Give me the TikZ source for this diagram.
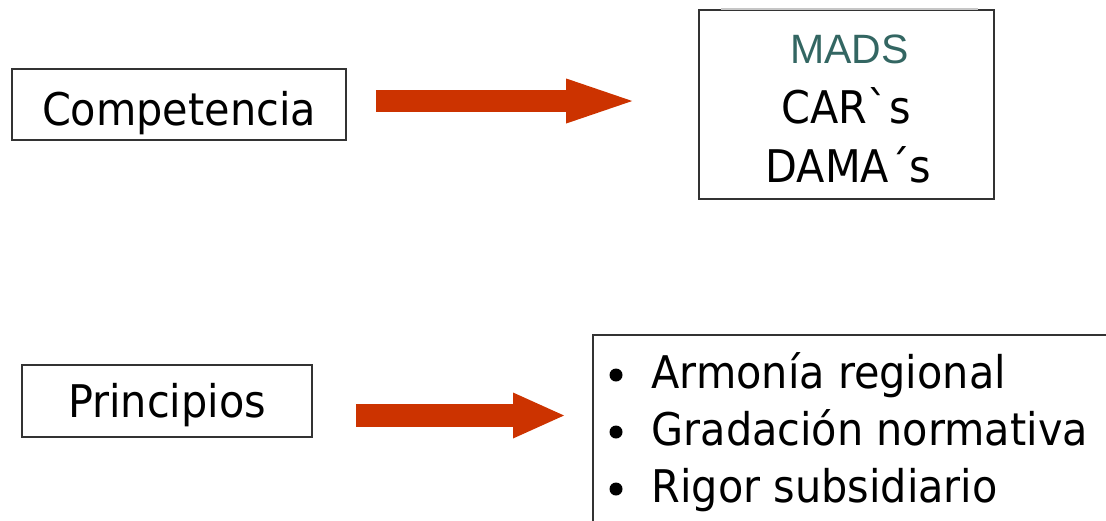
\documentclass[tikz,border=0pt]{standalone}
\usepackage{fontspec}
\usetikzlibrary{arrows.meta,calc}
\newfontfamily\boxfont[FakeStretch=0.92]{DejaVu Sans}
\newfontfamily\madsfont{Liberation Sans}
\definecolor{flecha}{RGB}{204,51,0}
\definecolor{madsverde}{RGB}{51,102,98}
\tikzset{
  caja/.style={draw=black!80, line width=1.6pt, inner sep=0pt},
  texto/.style={font=\fontsize{45}{54}\boxfont, text=black},
  flechon/.style n args={3}{draw=flecha, line width=#1,
    -{Triangle[length=#2, width=#3, line width=0pt]}}
}

\begin{document}
\begin{tikzpicture}[x=1pt, y=-1pt]
  \useasboundingbox (0,0) rectangle (1106,520);

  % competencia -> autoridades
  \node[caja, texto, minimum width=334pt, minimum height=71pt,
        text height=41pt, text depth=0pt] (comp) at (179,104.5) {Competencia};
  \node[caja, minimum width=295pt, minimum height=189pt] (mads) at (846.5,104.5) {};
  \draw[gray!45, line width=1.6pt] ($(mads.north west)+(23,0)$) -- ($(mads.north east)+(-17,0)$);
  \node[anchor=base, font=\fontsize{41}{48}\madsfont, text=madsverde] (siglaA) at (849.5,63) {MADS};
  \node[texto, anchor=base] (siglaB) at (846.5,123) {CAR\textasciigrave s};
  \node[texto, anchor=base] (siglaC) at (848.5,182) {DAMA´s};
  \draw[flechon={22pt}{66pt}{45pt}] ($(comp.east)+(29,-3.5)$) -- ($(mads.west)+(-66,-3.5)$);

  % principios -> lista
  \node[caja, texto, minimum width=290pt, minimum height=72pt,
        text height=32pt, text depth=0pt] (prin) at (167,401) {Principios};
  \node[caja, anchor=north west, minimum width=560pt, minimum height=230pt] (lista) at (592,334) {};
  \fill (616,375) circle (6.5pt);
  \node[texto, anchor=base west] (item1) at (648,388) {Armonía regional};
  \fill (616,432) circle (6.5pt);
  \node[texto, anchor=base west] (item2) at (648,445) {Gradación normativa};
  \fill (616,489) circle (6.5pt);
  \node[texto, anchor=base west] (item3) at (648,502) {Rigor subsidiario};
  \draw[flechon={23pt}{51pt}{46pt}] ($(prin.east)+(43,14.5)$) -- ($(lista.north west)+(-28,81.5)$);
\end{tikzpicture}
\end{document}
